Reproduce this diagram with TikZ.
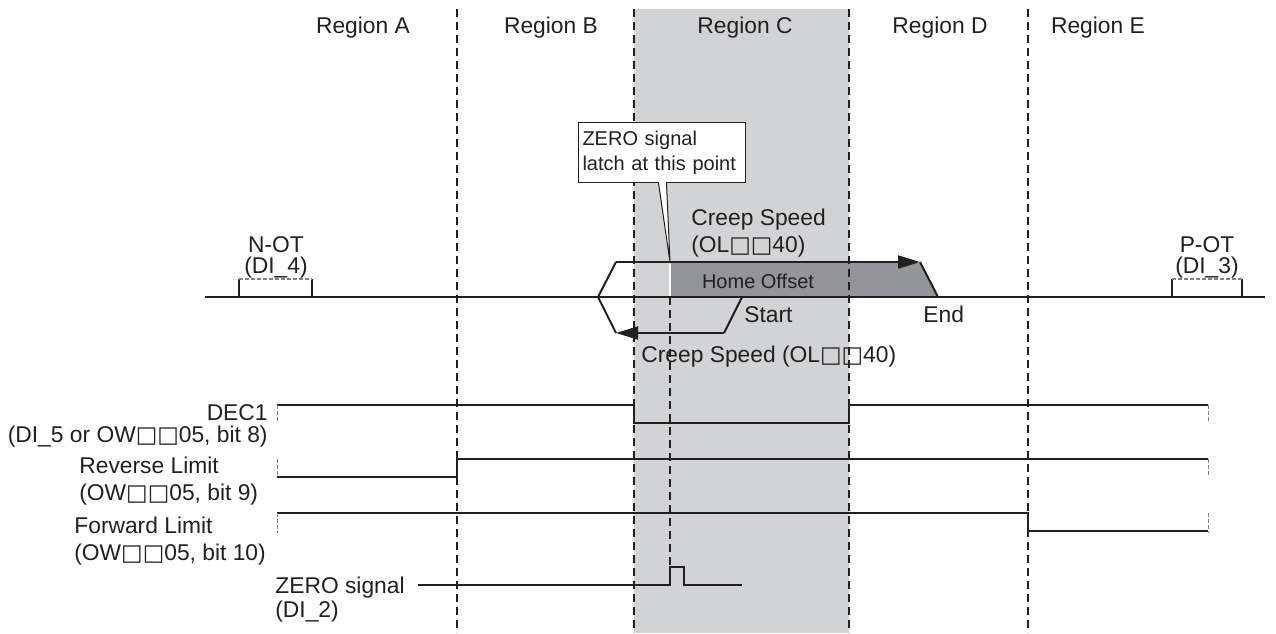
\documentclass[tikz,border=0pt]{standalone}
\usepackage{fontspec}
\setmainfont{Liberation Sans}
\newfontfamily\symfont[Scale=1.0]{DejaVu Sans}
\usepackage{tikz}
\usetikzlibrary{arrows.meta, positioning}

\definecolor{ink}{HTML}{231F20}
\definecolor{region_gray}{HTML}{D1D3D4}
\definecolor{offset_gray}{HTML}{939598}
\newcommand{\sqbox}{{\symfont □}}

\begin{document}
\begin{tikzpicture}[
    x=0.5pt, y=-0.5pt,
    every node/.style={text=ink, inner sep=0pt, font=\fontsize{11.4}{13.5}\selectfont},
    small_text/.style={font=\fontsize{10}{12}\selectfont},
    divider/.style={draw=ink, line width=1pt, dash pattern=on 4pt off 2.5pt},
    wave/.style={draw=ink, line width=1pt},
    stub/.style={draw=gray, line width=0.5pt, dash pattern=on 2pt off 1pt},
    arrow/.style={-{Triangle[length=11pt, width=6.5pt]}, wave},
    callout_box/.style={draw=ink, fill=white, line width=0.5pt, inner xsep=2pt, text width=79.5pt, minimum height=30pt, align=left, small_text}
]

% Frame and shaded region
\useasboundingbox (0,0) rectangle (1276,633);
\fill[region_gray] (634,9) rectangle (849,633);

% Home offset area
\fill[offset_gray] (671,263) -- (920,263) -- (938,297) -- (671,297) -- cycle;

% Region dividers and titles
\foreach \x in {457,634,849,1028}
    \draw[divider] (\x,9) -- (\x,633);
\foreach \x/\r in {363/A, 551/B, 745/C, 940/D, 1098/E}
    \node[anchor=base] (region_\r) at (\x,33) {Region \r};

% Axis
\coordinate (axis_left) at (205,297);
\coordinate (axis_right) at (1265,297);
\draw[wave] (axis_left) -- (axis_right);

% Overtravel switches
\draw[wave] (239,297) -- (239,279) (312,279) -- (312,297);
\draw[stub, line width=0.8pt] (239,279) -- (312,279);
\draw[wave] (1172,297) -- (1172,279) (1242,279) -- (1242,297);
\draw[stub, line width=0.8pt] (1172,279) -- (1242,279);
\node[anchor=base, align=center] (not_label) at (276,273) {N-OT\\[-3pt](DI\_4)};
\node[anchor=base, align=center] (pot_label) at (1207,273) {P-OT\\[-3pt](DI\_3)};

% Motion profile
\coordinate (turn) at (598,297);
\coordinate (top_left) at (616,262);
\coordinate (fwd_tip) at (920,262);
\coordinate (end_pt) at (938,297);
\coordinate (start_pt) at (742,297);
\coordinate (low_right) at (724,333);
\coordinate (rev_tip) at (616,333);
\coordinate (latch_pt) at (670,262);

\draw[wave] (turn) -- (top_left);
\draw[arrow] (top_left) -- (fwd_tip);
\draw[wave] (fwd_tip) -- (end_pt);
\draw[wave] (start_pt) -- (low_right);
\draw[arrow] (low_right) -- (rev_tip);
\draw[wave] (rev_tip) -- (turn);
\draw[white, line width=1pt] (670,264) -- (670,296);

% Latch point
\coordinate (zero_pulse) at (670,567);
\draw[divider] (670,297) -- (zero_pulse);
\node[callout_box, anchor=north west] (latch_note) at (578,122) {ZERO signal\\[0.5pt]latch at this point};
\fill[white] ([xshift=-1.5pt, yshift=0.6pt]latch_note.south) -- (latch_pt) -- ([xshift=2pt, yshift=0.6pt]latch_note.south) -- cycle;
\draw[ink, line width=0.5pt] ([xshift=-1.75pt]latch_note.south) -- (latch_pt) -- ([xshift=2.25pt]latch_note.south);

% Motion labels
\node[anchor=base west, align=left] (creep_fwd) at (691,252) {Creep Speed\\(OL\sqbox\sqbox40)};
\node[anchor=base, small_text] (offset_label) at (758,288) {Home Offset};
\node[anchor=base west] (start_label) at (744,322) {Start};
\node[anchor=base west] (end_label) at (923,322) {End};
\node[anchor=base west] (creep_rev) at (641,362) {Creep Speed (OL\sqbox\sqbox40)};

% Timing signals
\draw[wave] (277,405) -- (634,405) -- (634,423) -- (849,423) -- (849,405) -- (1208,405);
\draw[wave] (277,477) -- (457,477) -- (457,459) -- (1208,459);
\draw[wave] (277,513) -- (1028,513) -- (1028,531) -- (1208,531);
\draw[wave] (418,585) -- (670,585) -- (zero_pulse) -- (684,567) -- (684,585) -- (742,585);
\foreach \x in {277,1208} {
    \draw[stub] (\x,405) -- (\x,423);
    \draw[stub] (\x,459) -- (\x,477);
    \draw[stub] (\x,513) -- (\x,533);
}

% Signal labels
\node[anchor=base east, align=right] (dec_label) at (268,442) {DEC1\\[-2.5pt](DI\_5 or OW\sqbox\sqbox05, bit 8)};
\node[anchor=base west, align=left] (rev_label) at (79,500) {Reverse Limit\\(OW\sqbox\sqbox05, bit 9)};
\node[anchor=base west, align=left] (fwd_label) at (74,560) {Forward Limit\\(OW\sqbox\sqbox05, bit 10)};
\node[anchor=base west, align=left] (zero_label) at (275,617) {ZERO signal\\[-1.5pt](DI\_2)};

\end{tikzpicture}
\end{document}
